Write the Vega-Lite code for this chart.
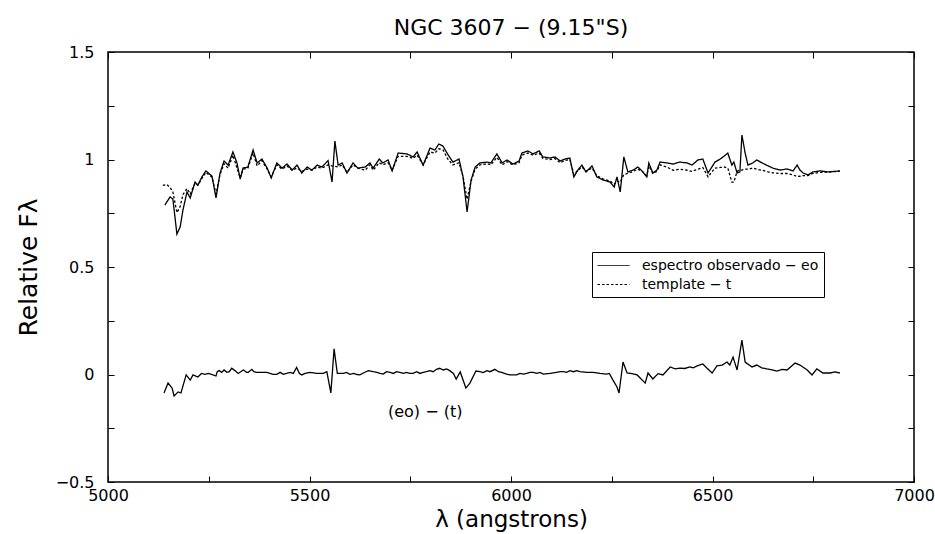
{
  "$schema": "https://vega.github.io/schema/vega-lite/v6.json",
  "autosize": {"type": "none"},
  "width": 806,
  "height": 430,
  "padding": {"left": 108, "top": 52, "right": 21, "bottom": 52},
  "background": "white",
  "title": {"text": "NGC 3607 − (9.15\"S)", "font": "DejaVu Sans", "fontSize": 22, "fontWeight": "normal", "color": "black", "offset": 4},
  "config": {
    "view": {"stroke": "black", "strokeWidth": 1.5},
    "axis": {"labelFont": "DejaVu Sans", "labelFontSize": 16, "labelColor": "black", "tickColor": "black", "domainColor": "black", "titleFont": "DejaVu Sans", "titleFontSize": 23, "titleFontWeight": "normal", "titleColor": "black", "grid": false},
    "legend": {"labelFont": "DejaVu Sans"}
  },
  "datasets": {
    "spec": [
      {"series": "espectro observado − eo", "lam": 5141, "flux": 0.788}, {"series": "espectro observado − eo", "lam": 5154, "flux": 0.826}, {"series": "espectro observado − eo", "lam": 5161, "flux": 0.816}, {"series": "espectro observado − eo", "lam": 5171, "flux": 0.653}, {"series": "espectro observado − eo", "lam": 5179, "flux": 0.686}, {"series": "espectro observado − eo", "lam": 5186, "flux": 0.765}, {"series": "espectro observado − eo", "lam": 5196, "flux": 0.849}, {"series": "espectro observado − eo", "lam": 5204, "flux": 0.821}, {"series": "espectro observado − eo", "lam": 5216, "flux": 0.895}, {"series": "espectro observado − eo", "lam": 5223, "flux": 0.881}, {"series": "espectro observado − eo", "lam": 5233, "flux": 0.919}, {"series": "espectro observado − eo", "lam": 5243, "flux": 0.947}, {"series": "espectro observado − eo", "lam": 5258, "flux": 0.923}, {"series": "espectro observado − eo", "lam": 5268, "flux": 0.821}, {"series": "espectro observado − eo", "lam": 5278, "flux": 0.937}, {"series": "espectro observado − eo", "lam": 5288, "flux": 0.993}, {"series": "espectro observado − eo", "lam": 5298, "flux": 0.974}, {"series": "espectro observado − eo", "lam": 5310, "flux": 1.035}, {"series": "espectro observado − eo", "lam": 5320, "flux": 0.984}, {"series": "espectro observado − eo", "lam": 5328, "flux": 0.909}, {"series": "espectro observado − eo", "lam": 5335, "flux": 0.96}, {"series": "espectro observado − eo", "lam": 5347, "flux": 0.965}, {"series": "espectro observado − eo", "lam": 5360, "flux": 1.044}, {"series": "espectro observado − eo", "lam": 5370, "flux": 0.984}, {"series": "espectro observado − eo", "lam": 5382, "flux": 1.002}, {"series": "espectro observado − eo", "lam": 5395, "flux": 0.96}, {"series": "espectro observado − eo", "lam": 5405, "flux": 0.914}, {"series": "espectro observado − eo", "lam": 5419, "flux": 0.984}, {"series": "espectro observado − eo", "lam": 5432, "flux": 0.96}, {"series": "espectro observado − eo", "lam": 5444, "flux": 0.979}, {"series": "espectro observado − eo", "lam": 5457, "flux": 0.951}, {"series": "espectro observado − eo", "lam": 5469, "flux": 0.974}, {"series": "espectro observado − eo", "lam": 5481, "flux": 0.937}, {"series": "espectro observado − eo", "lam": 5494, "flux": 0.965}, {"series": "espectro observado − eo", "lam": 5506, "flux": 0.951}, {"series": "espectro observado − eo", "lam": 5519, "flux": 0.974}, {"series": "espectro observado − eo", "lam": 5531, "flux": 0.965}, {"series": "espectro observado − eo", "lam": 5546, "flux": 0.995}, {"series": "espectro observado − eo", "lam": 5556, "flux": 0.895}, {"series": "espectro observado − eo", "lam": 5563, "flux": 1.086}, {"series": "espectro observado − eo", "lam": 5571, "flux": 0.974}, {"series": "espectro observado − eo", "lam": 5581, "flux": 0.984}, {"series": "espectro observado − eo", "lam": 5593, "flux": 0.937}, {"series": "espectro observado − eo", "lam": 5608, "flux": 0.984}, {"series": "espectro observado − eo", "lam": 5620, "flux": 0.96}, {"series": "espectro observado − eo", "lam": 5638, "flux": 0.965}, {"series": "espectro observado − eo", "lam": 5650, "flux": 0.984}, {"series": "espectro observado − eo", "lam": 5658, "flux": 0.96}, {"series": "espectro observado − eo", "lam": 5673, "flux": 1.002}, {"series": "espectro observado − eo", "lam": 5682, "flux": 0.984}, {"series": "espectro observado − eo", "lam": 5695, "flux": 0.998}, {"series": "espectro observado − eo", "lam": 5705, "flux": 0.947}, {"series": "espectro observado − eo", "lam": 5720, "flux": 1.03}, {"series": "espectro observado − eo", "lam": 5742, "flux": 1.026}, {"series": "espectro observado − eo", "lam": 5757, "flux": 1.012}, {"series": "espectro observado − eo", "lam": 5767, "flux": 1.035}, {"series": "espectro observado − eo", "lam": 5782, "flux": 0.974}, {"series": "espectro observado − eo", "lam": 5799, "flux": 1.053}, {"series": "espectro observado − eo", "lam": 5811, "flux": 1.044}, {"series": "espectro observado − eo", "lam": 5821, "flux": 1.072}, {"series": "espectro observado − eo", "lam": 5831, "flux": 1.063}, {"series": "espectro observado − eo", "lam": 5844, "flux": 1.021}, {"series": "espectro observado − eo", "lam": 5856, "flux": 0.988}, {"series": "espectro observado − eo", "lam": 5871, "flux": 1.002}, {"series": "espectro observado − eo", "lam": 5881, "flux": 0.919}, {"series": "espectro observado − eo", "lam": 5891, "flux": 0.756}, {"series": "espectro observado − eo", "lam": 5901, "flux": 0.905}, {"series": "espectro observado − eo", "lam": 5911, "flux": 0.965}, {"series": "espectro observado − eo", "lam": 5923, "flux": 0.984}, {"series": "espectro observado − eo", "lam": 5941, "flux": 0.988}, {"series": "espectro observado − eo", "lam": 5950, "flux": 0.984}, {"series": "espectro observado − eo", "lam": 5965, "flux": 1.026}, {"series": "espectro observado − eo", "lam": 5978, "flux": 0.984}, {"series": "espectro observado − eo", "lam": 5990, "flux": 0.998}, {"series": "espectro observado − eo", "lam": 6005, "flux": 0.979}, {"series": "espectro observado − eo", "lam": 6020, "flux": 0.993}, {"series": "espectro observado − eo", "lam": 6027, "flux": 1.03}, {"series": "espectro observado − eo", "lam": 6042, "flux": 1.04}, {"series": "espectro observado − eo", "lam": 6055, "flux": 1.026}, {"series": "espectro observado − eo", "lam": 6070, "flux": 1.04}, {"series": "espectro observado − eo", "lam": 6079, "flux": 1.012}, {"series": "espectro observado − eo", "lam": 6097, "flux": 1.007}, {"series": "espectro observado − eo", "lam": 6109, "flux": 1.012}, {"series": "espectro observado − eo", "lam": 6122, "flux": 0.993}, {"series": "espectro observado − eo", "lam": 6134, "flux": 1.002}, {"series": "espectro observado − eo", "lam": 6146, "flux": 1.007}, {"series": "espectro observado − eo", "lam": 6156, "flux": 0.919}, {"series": "espectro observado − eo", "lam": 6166, "flux": 0.951}, {"series": "espectro observado − eo", "lam": 6176, "flux": 0.974}, {"series": "espectro observado − eo", "lam": 6186, "flux": 0.942}, {"series": "espectro observado − eo", "lam": 6201, "flux": 0.97}, {"series": "espectro observado − eo", "lam": 6213, "flux": 0.919}, {"series": "espectro observado − eo", "lam": 6228, "flux": 0.905}, {"series": "espectro observado − eo", "lam": 6246, "flux": 0.895}, {"series": "espectro observado − eo", "lam": 6256, "flux": 0.872}, {"series": "espectro observado − eo", "lam": 6263, "flux": 0.919}, {"series": "espectro observado − eo", "lam": 6271, "flux": 0.849}, {"series": "espectro observado − eo", "lam": 6280, "flux": 1.012}, {"series": "espectro observado − eo", "lam": 6290, "flux": 0.942}, {"series": "espectro observado − eo", "lam": 6303, "flux": 0.951}, {"series": "espectro observado − eo", "lam": 6315, "flux": 0.965}, {"series": "espectro observado − eo", "lam": 6325, "flux": 0.947}, {"series": "espectro observado − eo", "lam": 6337, "flux": 0.919}, {"series": "espectro observado − eo", "lam": 6342, "flux": 0.984}, {"series": "espectro observado − eo", "lam": 6352, "flux": 0.937}, {"series": "espectro observado − eo", "lam": 6362, "flux": 0.951}, {"series": "espectro observado − eo", "lam": 6370, "flux": 0.988}, {"series": "espectro observado − eo", "lam": 6387, "flux": 0.984}, {"series": "espectro observado − eo", "lam": 6402, "flux": 0.979}, {"series": "espectro observado − eo", "lam": 6419, "flux": 0.988}, {"series": "espectro observado − eo", "lam": 6437, "flux": 0.984}, {"series": "espectro observado − eo", "lam": 6449, "flux": 0.974}, {"series": "espectro observado − eo", "lam": 6464, "flux": 0.998}, {"series": "espectro observado − eo", "lam": 6476, "flux": 1.002}, {"series": "espectro observado − eo", "lam": 6489, "flux": 0.937}, {"series": "espectro observado − eo", "lam": 6506, "flux": 0.988}, {"series": "espectro observado − eo", "lam": 6519, "flux": 1.002}, {"series": "espectro observado − eo", "lam": 6529, "flux": 1.016}, {"series": "espectro observado − eo", "lam": 6538, "flux": 1.03}, {"series": "espectro observado − eo", "lam": 6548, "flux": 0.974}, {"series": "espectro observado − eo", "lam": 6553, "flux": 0.988}, {"series": "espectro observado − eo", "lam": 6561, "flux": 0.937}, {"series": "espectro observado − eo", "lam": 6568, "flux": 0.942}, {"series": "espectro observado − eo", "lam": 6573, "flux": 1.114}, {"series": "espectro observado − eo", "lam": 6581, "flux": 1.03}, {"series": "espectro observado − eo", "lam": 6588, "flux": 0.974}, {"series": "espectro observado − eo", "lam": 6600, "flux": 0.984}, {"series": "espectro observado − eo", "lam": 6610, "flux": 0.998}, {"series": "espectro observado − eo", "lam": 6623, "flux": 0.984}, {"series": "espectro observado − eo", "lam": 6638, "flux": 0.97}, {"series": "espectro observado − eo", "lam": 6650, "flux": 0.96}, {"series": "espectro observado − eo", "lam": 6668, "flux": 0.951}, {"series": "espectro observado − eo", "lam": 6685, "flux": 0.956}, {"series": "espectro observado − eo", "lam": 6700, "flux": 0.947}, {"series": "espectro observado − eo", "lam": 6710, "flux": 0.974}, {"series": "espectro observado − eo", "lam": 6717, "flux": 0.951}, {"series": "espectro observado − eo", "lam": 6725, "flux": 0.937}, {"series": "espectro observado − eo", "lam": 6737, "flux": 0.928}, {"series": "espectro observado − eo", "lam": 6749, "flux": 0.942}, {"series": "espectro observado − eo", "lam": 6767, "flux": 0.947}, {"series": "espectro observado − eo", "lam": 6787, "flux": 0.942}, {"series": "espectro observado − eo", "lam": 6816, "flux": 0.947},
      {"series": "template − t", "lam": 5136, "flux": 0.88}, {"series": "template − t", "lam": 5146, "flux": 0.884}, {"series": "template − t", "lam": 5154, "flux": 0.87}, {"series": "template − t", "lam": 5161, "flux": 0.849}, {"series": "template − t", "lam": 5171, "flux": 0.753}, {"series": "template − t", "lam": 5179, "flux": 0.781}, {"series": "template − t", "lam": 5186, "flux": 0.837}, {"series": "template − t", "lam": 5196, "flux": 0.865}, {"series": "template − t", "lam": 5204, "flux": 0.84}, {"series": "template − t", "lam": 5216, "flux": 0.89}, {"series": "template − t", "lam": 5223, "flux": 0.88}, {"series": "template − t", "lam": 5233, "flux": 0.912}, {"series": "template − t", "lam": 5243, "flux": 0.94}, {"series": "template − t", "lam": 5258, "flux": 0.918}, {"series": "template − t", "lam": 5268, "flux": 0.84}, {"series": "template − t", "lam": 5278, "flux": 0.93}, {"series": "template − t", "lam": 5288, "flux": 0.98}, {"series": "template − t", "lam": 5298, "flux": 0.96}, {"series": "template − t", "lam": 5310, "flux": 1.02}, {"series": "template − t", "lam": 5320, "flux": 0.96}, {"series": "template − t", "lam": 5328, "flux": 0.915}, {"series": "template − t", "lam": 5335, "flux": 0.955}, {"series": "template − t", "lam": 5347, "flux": 0.96}, {"series": "template − t", "lam": 5360, "flux": 1.03}, {"series": "template − t", "lam": 5370, "flux": 0.97}, {"series": "template − t", "lam": 5382, "flux": 0.995}, {"series": "template − t", "lam": 5395, "flux": 0.955}, {"series": "template − t", "lam": 5405, "flux": 0.92}, {"series": "template − t", "lam": 5419, "flux": 0.975}, {"series": "template − t", "lam": 5432, "flux": 0.955}, {"series": "template − t", "lam": 5444, "flux": 0.97}, {"series": "template − t", "lam": 5457, "flux": 0.95}, {"series": "template − t", "lam": 5469, "flux": 0.96}, {"series": "template − t", "lam": 5481, "flux": 0.945}, {"series": "template − t", "lam": 5494, "flux": 0.955}, {"series": "template − t", "lam": 5506, "flux": 0.95}, {"series": "template − t", "lam": 5519, "flux": 0.965}, {"series": "template − t", "lam": 5531, "flux": 0.96}, {"series": "template − t", "lam": 5546, "flux": 0.975}, {"series": "template − t", "lam": 5556, "flux": 0.97}, {"series": "template − t", "lam": 5563, "flux": 0.968}, {"series": "template − t", "lam": 5571, "flux": 0.965}, {"series": "template − t", "lam": 5581, "flux": 0.975}, {"series": "template − t", "lam": 5593, "flux": 0.94}, {"series": "template − t", "lam": 5608, "flux": 0.975}, {"series": "template − t", "lam": 5620, "flux": 0.96}, {"series": "template − t", "lam": 5638, "flux": 0.95}, {"series": "template − t", "lam": 5650, "flux": 0.975}, {"series": "template − t", "lam": 5658, "flux": 0.95}, {"series": "template − t", "lam": 5673, "flux": 0.985}, {"series": "template − t", "lam": 5682, "flux": 0.975}, {"series": "template − t", "lam": 5695, "flux": 0.985}, {"series": "template − t", "lam": 5705, "flux": 0.95}, {"series": "template − t", "lam": 5720, "flux": 1.015}, {"series": "template − t", "lam": 5742, "flux": 1.015}, {"series": "template − t", "lam": 5757, "flux": 1.005}, {"series": "template − t", "lam": 5767, "flux": 1.02}, {"series": "template − t", "lam": 5782, "flux": 0.975}, {"series": "template − t", "lam": 5799, "flux": 1.035}, {"series": "template − t", "lam": 5811, "flux": 1.03}, {"series": "template − t", "lam": 5821, "flux": 1.05}, {"series": "template − t", "lam": 5831, "flux": 1.045}, {"series": "template − t", "lam": 5844, "flux": 1.0}, {"series": "template − t", "lam": 5856, "flux": 0.975}, {"series": "template − t", "lam": 5871, "flux": 0.985}, {"series": "template − t", "lam": 5881, "flux": 0.92}, {"series": "template − t", "lam": 5891, "flux": 0.815}, {"series": "template − t", "lam": 5901, "flux": 0.9}, {"series": "template − t", "lam": 5911, "flux": 0.955}, {"series": "template − t", "lam": 5923, "flux": 0.975}, {"series": "template − t", "lam": 5941, "flux": 0.98}, {"series": "template − t", "lam": 5950, "flux": 0.975}, {"series": "template − t", "lam": 5965, "flux": 1.01}, {"series": "template − t", "lam": 5978, "flux": 0.975}, {"series": "template − t", "lam": 5990, "flux": 0.99}, {"series": "template − t", "lam": 6005, "flux": 0.975}, {"series": "template − t", "lam": 6020, "flux": 0.985}, {"series": "template − t", "lam": 6027, "flux": 1.02}, {"series": "template − t", "lam": 6042, "flux": 1.03}, {"series": "template − t", "lam": 6055, "flux": 1.02}, {"series": "template − t", "lam": 6070, "flux": 1.03}, {"series": "template − t", "lam": 6079, "flux": 1.005}, {"series": "template − t", "lam": 6097, "flux": 1.0}, {"series": "template − t", "lam": 6109, "flux": 1.005}, {"series": "template − t", "lam": 6122, "flux": 0.985}, {"series": "template − t", "lam": 6134, "flux": 0.995}, {"series": "template − t", "lam": 6146, "flux": 1.0}, {"series": "template − t", "lam": 6156, "flux": 0.93}, {"series": "template − t", "lam": 6166, "flux": 0.95}, {"series": "template − t", "lam": 6176, "flux": 0.965}, {"series": "template − t", "lam": 6186, "flux": 0.945}, {"series": "template − t", "lam": 6201, "flux": 0.96}, {"series": "template − t", "lam": 6213, "flux": 0.925}, {"series": "template − t", "lam": 6228, "flux": 0.91}, {"series": "template − t", "lam": 6246, "flux": 0.9}, {"series": "template − t", "lam": 6256, "flux": 0.885}, {"series": "template − t", "lam": 6263, "flux": 0.9}, {"series": "template − t", "lam": 6271, "flux": 0.895}, {"series": "template − t", "lam": 6280, "flux": 0.93}, {"series": "template − t", "lam": 6290, "flux": 0.935}, {"series": "template − t", "lam": 6303, "flux": 0.945}, {"series": "template − t", "lam": 6315, "flux": 0.955}, {"series": "template − t", "lam": 6325, "flux": 0.945}, {"series": "template − t", "lam": 6337, "flux": 0.925}, {"series": "template − t", "lam": 6342, "flux": 0.97}, {"series": "template − t", "lam": 6352, "flux": 0.935}, {"series": "template − t", "lam": 6362, "flux": 0.945}, {"series": "template − t", "lam": 6370, "flux": 0.975}, {"series": "template − t", "lam": 6387, "flux": 0.965}, {"series": "template − t", "lam": 6402, "flux": 0.95}, {"series": "template − t", "lam": 6419, "flux": 0.955}, {"series": "template − t", "lam": 6437, "flux": 0.95}, {"series": "template − t", "lam": 6449, "flux": 0.945}, {"series": "template − t", "lam": 6464, "flux": 0.955}, {"series": "template − t", "lam": 6476, "flux": 0.963}, {"series": "template − t", "lam": 6489, "flux": 0.919}, {"series": "template − t", "lam": 6506, "flux": 0.96}, {"series": "template − t", "lam": 6519, "flux": 0.963}, {"series": "template − t", "lam": 6529, "flux": 0.965}, {"series": "template − t", "lam": 6538, "flux": 0.96}, {"series": "template − t", "lam": 6548, "flux": 0.895}, {"series": "template − t", "lam": 6553, "flux": 0.895}, {"series": "template − t", "lam": 6561, "flux": 0.945}, {"series": "template − t", "lam": 6568, "flux": 0.951}, {"series": "template − t", "lam": 6573, "flux": 0.951}, {"series": "template − t", "lam": 6581, "flux": 0.955}, {"series": "template − t", "lam": 6588, "flux": 0.955}, {"series": "template − t", "lam": 6600, "flux": 0.96}, {"series": "template − t", "lam": 6610, "flux": 0.955}, {"series": "template − t", "lam": 6623, "flux": 0.95}, {"series": "template − t", "lam": 6638, "flux": 0.942}, {"series": "template − t", "lam": 6650, "flux": 0.938}, {"series": "template − t", "lam": 6668, "flux": 0.935}, {"series": "template − t", "lam": 6685, "flux": 0.935}, {"series": "template − t", "lam": 6700, "flux": 0.928}, {"series": "template − t", "lam": 6710, "flux": 0.921}, {"series": "template − t", "lam": 6717, "flux": 0.922}, {"series": "template − t", "lam": 6725, "flux": 0.925}, {"series": "template − t", "lam": 6737, "flux": 0.925}, {"series": "template − t", "lam": 6749, "flux": 0.935}, {"series": "template − t", "lam": 6767, "flux": 0.94}, {"series": "template − t", "lam": 6787, "flux": 0.942}, {"series": "template − t", "lam": 6816, "flux": 0.945}
    ],
    "resid": [
      {"lam": 5139, "flux": -0.086}, {"lam": 5149, "flux": -0.04}, {"lam": 5159, "flux": -0.063}, {"lam": 5164, "flux": -0.1}, {"lam": 5174, "flux": -0.081}, {"lam": 5181, "flux": -0.086}, {"lam": 5194, "flux": -0.002}, {"lam": 5204, "flux": -0.026}, {"lam": 5211, "flux": -0.002}, {"lam": 5223, "flux": -0.012}, {"lam": 5232, "flux": 0.005}, {"lam": 5241, "flux": 0.001}, {"lam": 5249, "flux": 0.005}, {"lam": 5257, "flux": 0.001}, {"lam": 5268, "flux": -0.007}, {"lam": 5271, "flux": 0.013}, {"lam": 5276, "flux": 0.018}, {"lam": 5282, "flux": 0.01}, {"lam": 5288, "flux": 0.021}, {"lam": 5295, "flux": 0.01}, {"lam": 5301, "flux": 0.013}, {"lam": 5307, "flux": 0.029}, {"lam": 5315, "flux": 0.018}, {"lam": 5323, "flux": 0.005}, {"lam": 5332, "flux": 0.016}, {"lam": 5336, "flux": 0.021}, {"lam": 5344, "flux": 0.01}, {"lam": 5348, "flux": 0.01}, {"lam": 5357, "flux": 0.024}, {"lam": 5362, "flux": 0.013}, {"lam": 5369, "flux": 0.01}, {"lam": 5381, "flux": 0.01}, {"lam": 5394, "flux": 0.01}, {"lam": 5402, "flux": 0.005}, {"lam": 5410, "flux": 0.001}, {"lam": 5419, "flux": 0.001}, {"lam": 5427, "flux": 0.01}, {"lam": 5435, "flux": 0.001}, {"lam": 5443, "flux": 0.005}, {"lam": 5452, "flux": 0.01}, {"lam": 5460, "flux": 0.005}, {"lam": 5468, "flux": 0.033}, {"lam": 5475, "flux": 0.005}, {"lam": 5481, "flux": -0.002}, {"lam": 5489, "flux": 0.005}, {"lam": 5501, "flux": 0.01}, {"lam": 5518, "flux": 0.005}, {"lam": 5534, "flux": 0.005}, {"lam": 5543, "flux": 0.013}, {"lam": 5553, "flux": -0.086}, {"lam": 5561, "flux": 0.119}, {"lam": 5569, "flux": 0.005}, {"lam": 5584, "flux": 0.005}, {"lam": 5592, "flux": 0.01}, {"lam": 5600, "flux": 0.001}, {"lam": 5610, "flux": 0.005}, {"lam": 5618, "flux": 0.0}, {"lam": 5625, "flux": -0.002}, {"lam": 5635, "flux": 0.008}, {"lam": 5646, "flux": 0.018},
      {"lam": 5658, "flux": 0.013}, {"lam": 5667, "flux": 0.01}, {"lam": 5675, "flux": 0.005}, {"lam": 5683, "flux": 0.002}, {"lam": 5691, "flux": 0.013}, {"lam": 5700, "flux": 0.01}, {"lam": 5708, "flux": 0.005}, {"lam": 5716, "flux": 0.013}, {"lam": 5724, "flux": 0.01}, {"lam": 5733, "flux": 0.005}, {"lam": 5741, "flux": 0.01}, {"lam": 5749, "flux": 0.005}, {"lam": 5757, "flux": 0.005}, {"lam": 5766, "flux": 0.013}, {"lam": 5774, "flux": 0.005}, {"lam": 5782, "flux": 0.01}, {"lam": 5790, "flux": 0.013}, {"lam": 5799, "flux": 0.018}, {"lam": 5807, "flux": 0.013}, {"lam": 5815, "flux": 0.024}, {"lam": 5823, "flux": 0.029}, {"lam": 5832, "flux": 0.021}, {"lam": 5840, "flux": 0.026}, {"lam": 5848, "flux": 0.018}, {"lam": 5857, "flux": 0.005}, {"lam": 5864, "flux": -0.021}, {"lam": 5874, "flux": 0.012}, {"lam": 5888, "flux": -0.063}, {"lam": 5898, "flux": -0.04}, {"lam": 5913, "flux": 0.016},
      {"lam": 5923, "flux": 0.013}, {"lam": 5931, "flux": 0.009}, {"lam": 5940, "flux": 0.018}, {"lam": 5948, "flux": 0.013}, {"lam": 5960, "flux": 0.024}, {"lam": 5969, "flux": 0.013}, {"lam": 5977, "flux": 0.01}, {"lam": 5989, "flux": 0.002}, {"lam": 5997, "flux": -0.002}, {"lam": 6014, "flux": -0.002}, {"lam": 6022, "flux": 0.005}, {"lam": 6031, "flux": 0.002}, {"lam": 6039, "flux": 0.005}, {"lam": 6047, "flux": 0.01}, {"lam": 6055, "flux": 0.01}, {"lam": 6064, "flux": 0.005}, {"lam": 6072, "flux": 0.01}, {"lam": 6080, "flux": 0.002}, {"lam": 6097, "flux": 0.005}, {"lam": 6113, "flux": 0.01}, {"lam": 6122, "flux": 0.013}, {"lam": 6130, "flux": 0.013}, {"lam": 6138, "flux": 0.01}, {"lam": 6146, "flux": 0.018}, {"lam": 6155, "flux": 0.013}, {"lam": 6163, "flux": 0.018}, {"lam": 6171, "flux": 0.013}, {"lam": 6188, "flux": 0.01}, {"lam": 6204, "flux": 0.01}, {"lam": 6221, "flux": 0.005}, {"lam": 6237, "flux": 0.002}, {"lam": 6244, "flux": 0.005},
      {"lam": 6253, "flux": -0.026}, {"lam": 6263, "flux": -0.058}, {"lam": 6268, "flux": -0.086}, {"lam": 6278, "flux": 0.058}, {"lam": 6288, "flux": 0.007}, {"lam": 6300, "flux": 0.004}, {"lam": 6313, "flux": -0.002}, {"lam": 6333, "flux": -0.04}, {"lam": 6340, "flux": 0.007}, {"lam": 6352, "flux": -0.021}, {"lam": 6365, "flux": 0.004}, {"lam": 6377, "flux": -0.002}, {"lam": 6395, "flux": 0.035}, {"lam": 6407, "flux": 0.026}, {"lam": 6419, "flux": 0.03}, {"lam": 6431, "flux": 0.028}, {"lam": 6444, "flux": 0.035}, {"lam": 6452, "flux": 0.031}, {"lam": 6462, "flux": 0.04}, {"lam": 6476, "flux": 0.049}, {"lam": 6486, "flux": 0.03}, {"lam": 6499, "flux": 0.007}, {"lam": 6511, "flux": 0.04}, {"lam": 6524, "flux": 0.044}, {"lam": 6536, "flux": 0.058}, {"lam": 6543, "flux": 0.044}, {"lam": 6551, "flux": 0.081}, {"lam": 6561, "flux": 0.021}, {"lam": 6573, "flux": 0.16}, {"lam": 6581, "flux": 0.058}, {"lam": 6598, "flux": 0.035}, {"lam": 6610, "flux": 0.044}, {"lam": 6622, "flux": 0.031}, {"lam": 6635, "flux": 0.026}, {"lam": 6648, "flux": 0.022}, {"lam": 6660, "flux": 0.016}, {"lam": 6673, "flux": 0.024}, {"lam": 6685, "flux": 0.021}, {"lam": 6705, "flux": 0.053}, {"lam": 6717, "flux": 0.044}, {"lam": 6735, "flux": 0.021}, {"lam": 6747, "flux": -0.002}, {"lam": 6759, "flux": 0.026}, {"lam": 6774, "flux": 0.007}, {"lam": 6792, "flux": 0.007}, {"lam": 6804, "flux": 0.012}, {"lam": 6816, "flux": 0.007}
    ],
    "notes": [{"lam": 5787, "flux": -0.174, "label": "(eo) − (t)"}]
  },
  "layer": [
    {
      "data": {"name": "spec"},
      "mark": {"type": "line", "color": "black", "strokeWidth": 1.3, "interpolate": "linear"},
      "encoding": {
        "x": {"field": "lam", "type": "quantitative", "scale": {"domain": [5000, 7000], "nice": false, "zero": false},
          "axis": {"orient": "bottom", "title": "λ (angstrons)", "values": [5000, 5250, 5500, 5750, 6000, 6250, 6500, 6750, 7000], "format": "d", "labelExpr": "datum.value % 500 == 0 ? datum.label : ''", "tickSize": -6, "labelPadding": 11, "titlePadding": 5, "domain": false, "labelFlush": false}},
        "y": {"field": "flux", "type": "quantitative", "scale": {"domain": [-0.5, 1.5], "nice": false, "zero": false},
          "axis": {"orient": "left", "title": "Relative Fλ", "titleFontSize": 25, "values": [-0.5, -0.25, 0, 0.25, 0.5, 0.75, 1, 1.25, 1.5], "format": ".1~f", "labelExpr": "abs(datum.value * 2 - round(datum.value * 2)) < 0.001 ? datum.label : ''", "tickSize": -6, "labelPadding": 20, "titlePadding": 14, "domain": false, "labelFlush": false}},
        "strokeDash": {"field": "series", "type": "nominal",
          "scale": {"domain": ["espectro observado − eo", "template − t"], "range": [[1, 0], [2.5, 2]]},
          "legend": {"orient": "none", "legendX": 484, "legendY": 200, "title": null, "strokeColor": "black", "fillColor": "white", "padding": 5, "symbolType": "M-1,0H3", "symbolSize": 256, "symbolStrokeWidth": 1, "symbolStrokeColor": "black", "symbolFillColor": "transparent", "labelFontSize": 14, "labelLimit": 400, "labelColor": "black", "labelOffset": 28, "rowPadding": 3, "cornerRadius": 0}}
      }
    },
    {
      "data": {"name": "resid"},
      "mark": {"type": "line", "color": "black", "strokeWidth": 1.3},
      "encoding": {
        "x": {"field": "lam", "type": "quantitative", "axis": {"orient": "top", "title": null, "labels": false, "values": [5000, 5250, 5500, 5750, 6000, 6250, 6500, 6750, 7000], "tickSize": -6, "domain": false}},
        "y": {"field": "flux", "type": "quantitative", "axis": {"orient": "right", "title": null, "labels": false, "values": [-0.5, -0.25, 0, 0.25, 0.5, 0.75, 1, 1.25, 1.5], "tickSize": -6, "domain": false}}
      }
    },
    {
      "data": {"name": "notes"},
      "mark": {"type": "text", "font": "DejaVu Sans", "fontSize": 16, "color": "black", "align": "center", "baseline": "middle"},
      "encoding": {
        "x": {"field": "lam", "type": "quantitative", "axis": null},
        "y": {"field": "flux", "type": "quantitative", "axis": null},
        "text": {"field": "label"}
      }
    }
  ],
  "resolve": {"axis": {"x": "independent", "y": "independent"}}
}
